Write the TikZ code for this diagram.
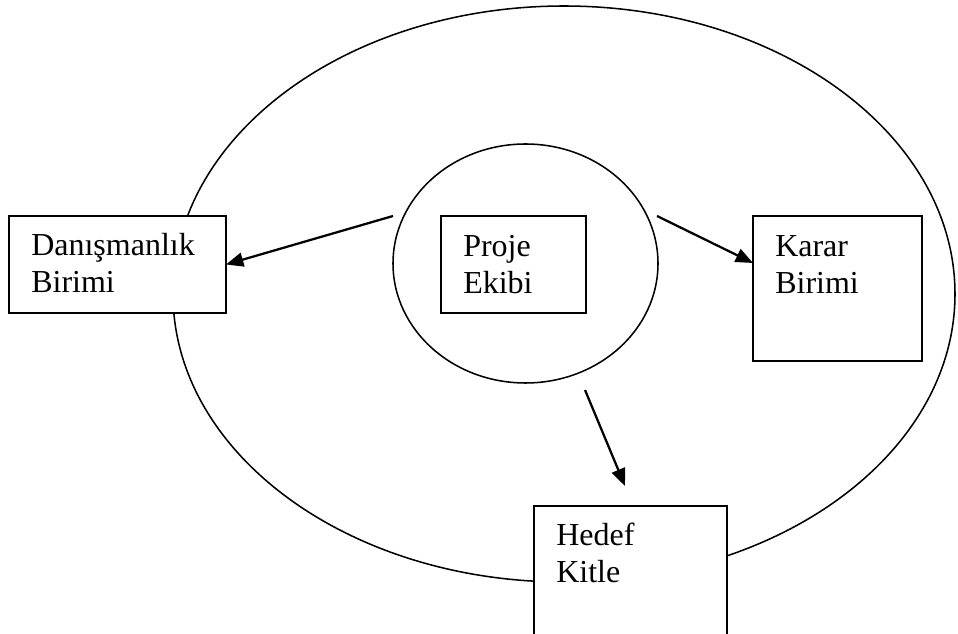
\documentclass[tikz,border=0pt]{standalone}
\usepackage{fontspec}
\setmainfont{Liberation Serif}
\usetikzlibrary{arrows.meta,shapes.geometric}
\begin{document}
\begin{tikzpicture}[x=0.75pt,y=-0.75pt,
  ring/.style={draw, ellipse, line width=1.15pt, inner sep=0pt, outer sep=0pt},
  unit/.style={draw, fill=white, line width=1.2pt, rectangle, anchor=north west,
    inner sep=0pt, outer sep=0pt},
  label text/.style={anchor=base west, align=left, inner sep=0pt,
    font=\fontsize{24}{28.2}\selectfont},
  flow/.style={line width=1.7pt, -{Triangle[length=13pt,width=10.5pt]}}]
  % page frame
  \path[fill=white, use as bounding box] (0,0) rectangle (958,634);

  % organisation boundary and project core
  \node[ring, minimum width=586.5pt, minimum height=432pt] (org) at (564,294) {};
  \node[ring, minimum width=198.75pt, minimum height=179.25pt] (core) at (525.5,263.5) {};

  % units
  \node[unit, minimum width=162.75pt, minimum height=72.75pt] (dan) at (9,216) {};
  \node[unit, minimum width=108.75pt, minimum height=72.75pt] (pe) at (441,216) {};
  \node[unit, minimum width=126.75pt, minimum height=108.75pt] (kar) at (753,216) {};
  \node[unit, minimum width=144.75pt, minimum height=150pt] (hed) at (534,506) {};

  % labels, placed by the baseline of their last line
  \node[label text] (dant) at (31,293) {Danışmanlık\\Birimi};
  \node[label text] (pet) at (463,294) {Proje\\Ekibi};
  \node[label text] (kart) at (775,294) {Karar\\Birimi};
  \node[label text] (hedt) at (556,583) {Hedef\\Kitle};

  % connector ends
  \coordinate (s1) at (393,216);
  \coordinate (s2) at (657,216);
  \coordinate (e2) at (753,263);
  \coordinate (s3) at (585,390);
  \coordinate (e3) at (625,486);

  \draw[flow] (s1) -- (dan.east);
  \draw[flow] (s2) -- (e2);
  \draw[flow] (s3) -- (e3);
\end{tikzpicture}
\end{document}
